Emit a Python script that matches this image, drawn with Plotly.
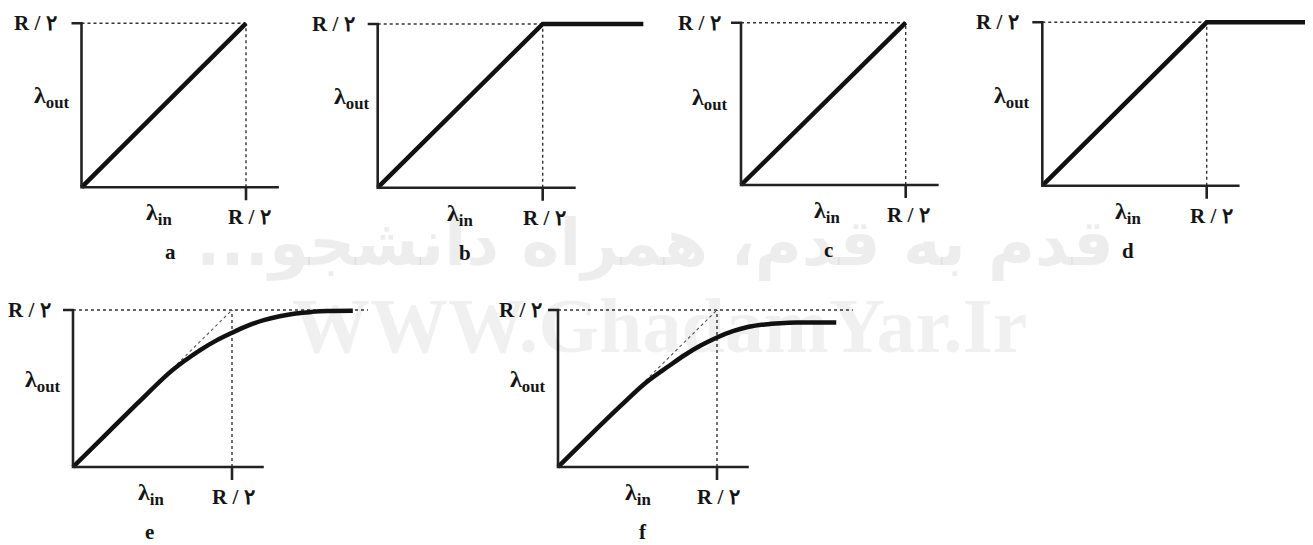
import plotly.graph_objects as go

W, H = 1313, 545
PAGE = 8  # the page body margin that shifts the figure inside the window

# ---- chart values (both axes in units of R/2) ----
tick_label = "R / ۲"
out_label = "λ<sub>out</sub>"
in_label = "λ<sub>in</sub>"
panel_names = ["a", "b", "c", "d", "e", "f"]

a_in, a_out = [0, 1], [0, 1]
b_in, b_out = [0, 1, 1.61], [0, 1, 1]
c_in, c_out = [0, 1], [0, 1]
d_in, d_out = [0, 1, 1.61], [0, 1, 1]
e_in = [0, 0.2, 0.4, 0.6, 0.7, 0.8, 0.9, 1.0, 1.1, 1.2, 1.3, 1.4, 1.5, 1.6, 1.76]
e_out = [0, 0.2, 0.4, 0.595, 0.675, 0.745, 0.805, 0.855, 0.9, 0.935, 0.96, 0.978, 0.988, 0.994, 0.996]
f_in = [0, 0.2, 0.4, 0.55, 0.7, 0.8, 0.9, 1.0, 1.1, 1.2, 1.3, 1.4, 1.5, 1.75]
f_out = [0, 0.2, 0.395, 0.535, 0.645, 0.715, 0.775, 0.825, 0.865, 0.893, 0.908, 0.916, 0.92, 0.92]

curves = [(a_in, a_out), (b_in, b_out), (c_in, c_out),
          (d_in, d_out), (e_in, e_out), (f_in, f_out)]
smooth = [False, False, False, False, True, True]
# where the dotted y = x guide leaves the curve (None = no guide)
guide_from = [None, None, None, None, 0.6, 0.55]
top_guide_end = [1, 1, 1, 1, 1.855, 1.855]
axis_end = 1.2

# ---- geometry (window pixels) ----
origin_x = [81.5, 377.7, 741, 1042.3, 73, 558]
origin_y = [187.3, 187.7, 185, 185.7, 467, 467]
unit_x = [164.5, 165, 164.7, 164.4, 159, 159]
unit_y = [164, 163.7, 162.3, 163.4, 157, 157]
x_right = [1.24, 1.63, 1.24, 1.63, 1.87, 1.87]
x_left, y_low, y_high = -0.12, -0.1, 1.04

rtop_gap = [23, 21, 18, 21, 20, 14]
out_gap = [10, 6, 11, 10, 10, 10]
out_y = [0.55, 0.55, 0.53, 0.54, 0.55, 0.55]
in_x = [0.47, 0.50, 0.52, 0.52, 0.49, 0.50]
rbot_x = [1.02, 1.01, 1.02, 1.03, 1.01, 1.01]
name_x = [0.54, 0.53, 0.53, 0.52, 0.48, 0.535]

ink = "#151515"
font = "Liberation Serif"


def px(x):
    return (x - PAGE) / W


def py(y):
    return 1 - (y - PAGE) / H


fig = go.Figure()
layout = dict(width=W, height=H, margin=dict(l=0, r=0, t=0, b=0),
              paper_bgcolor="white", plot_bgcolor="rgba(0,0,0,0)",
              showlegend=False)
shapes, annotations = [], []

for i in range(6):
    n = i + 1
    xa, ya = f"x{n}", f"y{n}"
    ox, oy, ux, uy = origin_x[i], origin_y[i], unit_x[i], unit_y[i]

    layout[f"xaxis{n}"] = dict(
        domain=[max(0, px(ox + x_left * ux)), min(1, px(ox + x_right[i] * ux))],
        range=[x_left, x_right[i]], visible=False, anchor=ya, fixedrange=True)
    layout[f"yaxis{n}"] = dict(
        domain=[py(oy - y_low * uy), py(oy - y_high * uy)],
        range=[y_low, y_high], visible=False, anchor=xa, fixedrange=True)

    dot = dict(color="#333", width=1.4, dash="dot")
    # dotted guides: top level, vertical at R/2, and y = x continuation
    fig.add_trace(go.Scatter(x=[0, top_guide_end[i]], y=[1, 1], mode="lines",
                             line=dot, xaxis=xa, yaxis=ya, hoverinfo="skip"))
    fig.add_trace(go.Scatter(x=[1, 1], y=[0, 1], mode="lines",
                             line=dot, xaxis=xa, yaxis=ya, hoverinfo="skip"))
    if guide_from[i] is not None:
        fig.add_trace(go.Scatter(x=[guide_from[i], 1], y=[guide_from[i], 1],
                                 mode="lines", line=dict(color="#555", width=1.1, dash="dot"),
                                 xaxis=xa, yaxis=ya, hoverinfo="skip"))

    cx, cy = curves[i]
    fig.add_trace(go.Scatter(
        x=cx, y=cy, mode="lines", xaxis=xa, yaxis=ya,
        line=dict(color="#111", width=4.5,
                  shape="spline" if smooth[i] else "linear", smoothing=1.0)))

    # axes with the two R/2 ticks
    path = (f"M {-10 / ux},1 L 0,1 L 0,0 L {axis_end},0 "
            f"M 1,0 L 1,{-13 / uy}")
    shapes.append(dict(type="path", path=path, xref=xa, yref=ya,
                       line=dict(color="#222", width=2.6)))

    def label(text, x, y, size, **kw):
        annotations.append(dict(text=text, x=x, y=y, xref=xa, yref=ya,
                                showarrow=False, font=dict(family=font, size=size, color=ink),
                                **kw))

    label(f"<b>{tick_label}</b>", 0, 1, 21, xanchor="right", yanchor="middle",
          xshift=-rtop_gap[i])
    label(f"<b>{out_label}</b>", 0, out_y[i], 24, xanchor="right", yanchor="middle",
          xshift=-out_gap[i])
    label(f"<b>{in_label}</b>", in_x[i], 0, 24, xanchor="center", yanchor="middle",
          yshift=-27)
    label(f"<b>{tick_label}</b>", rbot_x[i], 0, 21, xanchor="center", yanchor="middle",
          yshift=-30)
    label(f"<b>{panel_names[i]}</b>", name_x[i], 0, 21, xanchor="center", yanchor="middle",
          yshift=-65)

# faint watermark of the source
annotations.append(dict(text="<b>...قدم به قدم، همراه دانشجو</b>", x=px(655), y=py(243),
                        xref="paper", yref="paper", showarrow=False,
                        font=dict(family="DejaVu Sans", size=64, color="rgba(0,0,0,0.07)")))
annotations.append(dict(text="<b>WWW.GhadamYar.Ir</b>", x=px(659), y=py(325),
                        xref="paper", yref="paper", showarrow=False,
                        font=dict(family=font, size=78, color="rgba(0,0,0,0.06)")))

layout["shapes"] = shapes
layout["annotations"] = annotations
fig.update_layout(layout)

fig.write_html("out.html")
